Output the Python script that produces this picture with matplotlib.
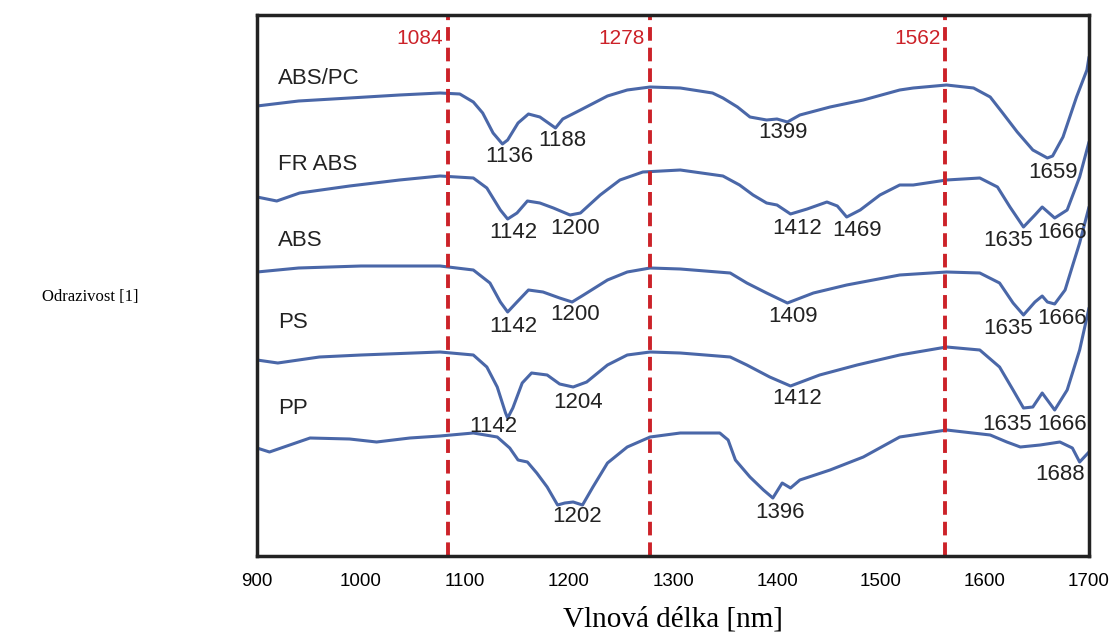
import matplotlib
matplotlib.use('Agg')
import matplotlib.pyplot as plt

# Spektra (vlnova delka [nm], odrazivost v relativnich jednotkach, posunuto)
abs_pc_wl = [900, 940, 989, 1037, 1076, 1095, 1108, 1117, 1127, 1136, 1141, 1151, 1161, 1172,
             1187, 1194, 1211, 1237, 1256, 1278, 1307, 1338, 1348, 1362, 1374, 1390, 1400,
             1410, 1422, 1451, 1483, 1518, 1531, 1563, 1589, 1605, 1617, 1631, 1646, 1660,
             1665, 1675, 1688, 1698, 1700]
abs_pc_r = [450, 455, 458, 461, 463, 462, 454, 443, 423, 412, 416, 433, 442, 439,
            428, 437, 446, 460, 466, 469, 468, 463, 458, 449, 439, 436, 437,
            434, 441, 449, 456, 466, 468, 471, 468, 459, 443, 424, 406, 398,
            400, 419, 459, 486, 499]

fr_abs_wl = [900, 919, 941, 989, 1037, 1076, 1108, 1121, 1134, 1141, 1150, 1160, 1172, 1185,
             1201, 1211, 1230, 1249, 1271, 1307, 1348, 1364, 1377, 1390, 1400, 1413, 1429,
             1448, 1458, 1467, 1480, 1499, 1518, 1531, 1563, 1595, 1612, 1624, 1637, 1648,
             1655, 1667, 1679, 1691, 1700]
fr_abs_r = [359, 355, 363, 370, 376, 380, 378, 368, 346, 337, 343, 355, 353, 348,
            341, 343, 361, 376, 384, 386, 380, 371, 361, 353, 351, 342, 347,
            354, 350, 339, 346, 361, 371, 371, 376, 378, 369, 349, 329, 341,
            349, 338, 346, 379, 414]

abs_wl = [900, 940, 1000, 1076, 1108, 1124, 1134, 1141, 1150, 1161, 1175, 1191, 1203, 1214,
          1237, 1256, 1278, 1307, 1355, 1371, 1390, 1410, 1435, 1467, 1518, 1563, 1595,
          1614, 1627, 1637, 1648, 1655, 1660, 1667, 1677, 1685, 1691, 1700]
abs_r = [284, 288, 290, 290, 286, 273, 254, 244, 254, 266, 264, 258, 254, 261,
         276, 284, 288, 287, 283, 273, 263, 253, 263, 271, 281, 284, 283,
         273, 253, 241, 254, 260, 254, 252, 266, 293, 313, 349]

ps_wl = [900, 920, 960, 1000, 1076, 1108, 1121, 1131, 1139, 1141, 1146, 1155, 1164, 1179,
         1191, 1204, 1217, 1237, 1256, 1278, 1307, 1355, 1371, 1393, 1413, 1441, 1477,
         1518, 1563, 1595, 1614, 1627, 1637, 1646, 1655, 1667, 1679, 1691, 1700]
ps_r = [196, 193, 199, 201, 204, 201, 189, 169, 143, 138, 148, 173, 183, 181,
        172, 169, 174, 191, 201, 204, 203, 199, 191, 179, 170, 181, 191,
        201, 209, 206, 189, 166, 148, 149, 163, 146, 166, 206, 248]

pp_wl = [900, 912, 951, 989, 1015, 1047, 1076, 1108, 1131, 1143, 1151, 1160, 1169, 1179,
         1189, 1196, 1204, 1213, 1223, 1237, 1256, 1278, 1307, 1345, 1353, 1360, 1374,
         1387, 1396, 1405, 1413, 1422, 1451, 1483, 1518, 1531, 1563, 1605, 1621, 1634,
         1653, 1672, 1684, 1691, 1700]
pp_r = [108, 104, 118, 117, 114, 118, 120, 123, 119, 108, 96, 94, 83, 69,
        51, 53, 54, 51, 69, 93, 109, 119, 123, 123, 116, 96, 79,
        66, 58, 73, 68, 76, 86, 99, 119, 121, 126, 121, 114, 109,
        111, 114, 108, 94, 104]

ref_lines = [1084, 1278, 1562]

# Popisky vzorku a pasu: (text, x, y)
sample_labels = [('ABS/PC', 920, 478), ('FR ABS', 920, 391), ('ABS', 920, 316),
                 ('PS', 920, 234), ('PP', 920, 148)]
peak_labels = [('1136', 1143, 399), ('1188', 1194, 415), ('1399', 1406, 423), ('1659', 1665, 383),
               ('1142', 1146, 324), ('1200', 1206, 328), ('1412', 1419, 328), ('1469', 1477, 326),
               ('1635', 1622, 316), ('1666', 1674, 323),
               ('1142', 1146, 229), ('1200', 1206, 241), ('1409', 1415, 239),
               ('1635', 1622, 227), ('1666', 1674, 237),
               ('1142', 1127, 130), ('1204', 1209, 153), ('1412', 1419, 158),
               ('1635', 1621, 132), ('1666', 1674, 132),
               ('1202', 1208, 39), ('1396', 1403, 44), ('1688', 1672, 81)]

blue = '#4a67a8'
red = '#cc2229'

fig = plt.figure(figsize=(11.14, 6.33), dpi=100)
ax = fig.add_axes([257 / 1114, 1 - 556 / 633, 832 / 1114, 541 / 633])

for wl, r in [(abs_pc_wl, abs_pc_r), (fr_abs_wl, fr_abs_r), (abs_wl, abs_r),
              (ps_wl, ps_r), (pp_wl, pp_r)]:
    ax.plot(wl, r, color=blue, linewidth=2.2, solid_joinstyle='round', solid_capstyle='round')

for x in ref_lines:
    ax.axvline(x, color=red, linewidth=2.8, linestyle=(0, (3.5, 1.8)))
    ax.text(x - 5, 517, str(x), color=red, fontsize=15, ha='right', va='center',
            family='Liberation Sans')

for text, x, y in sample_labels:
    ax.text(x, y, text, fontsize=16, ha='left', va='center', family='Liberation Sans',
            color='#222222')
for text, x, y in peak_labels:
    ax.text(x, y, text, fontsize=16, ha='center', va='center', family='Liberation Sans',
            color='#222222')

ax.set_xlim(900, 1700)
ax.set_ylim(0, 541)
ax.set_xticks(range(900, 1701, 100))
ax.set_yticks([])
ax.tick_params(axis='x', length=0, pad=12, labelsize=13.5)
for lab in ax.get_xticklabels():
    lab.set_family('Liberation Sans')
for s in ax.spines.values():
    s.set_linewidth(2.5)
    s.set_color('#222222')

ax.set_xlabel('Vlnová délka [nm]', fontsize=21, family='Liberation Serif', labelpad=12)
fig.text(90 / 1114, 1 - 297 / 633, 'Odrazivost [1]', fontsize=12, family='Liberation Serif',
         ha='center', va='center')

fig.savefig('out.png', dpi=100)
